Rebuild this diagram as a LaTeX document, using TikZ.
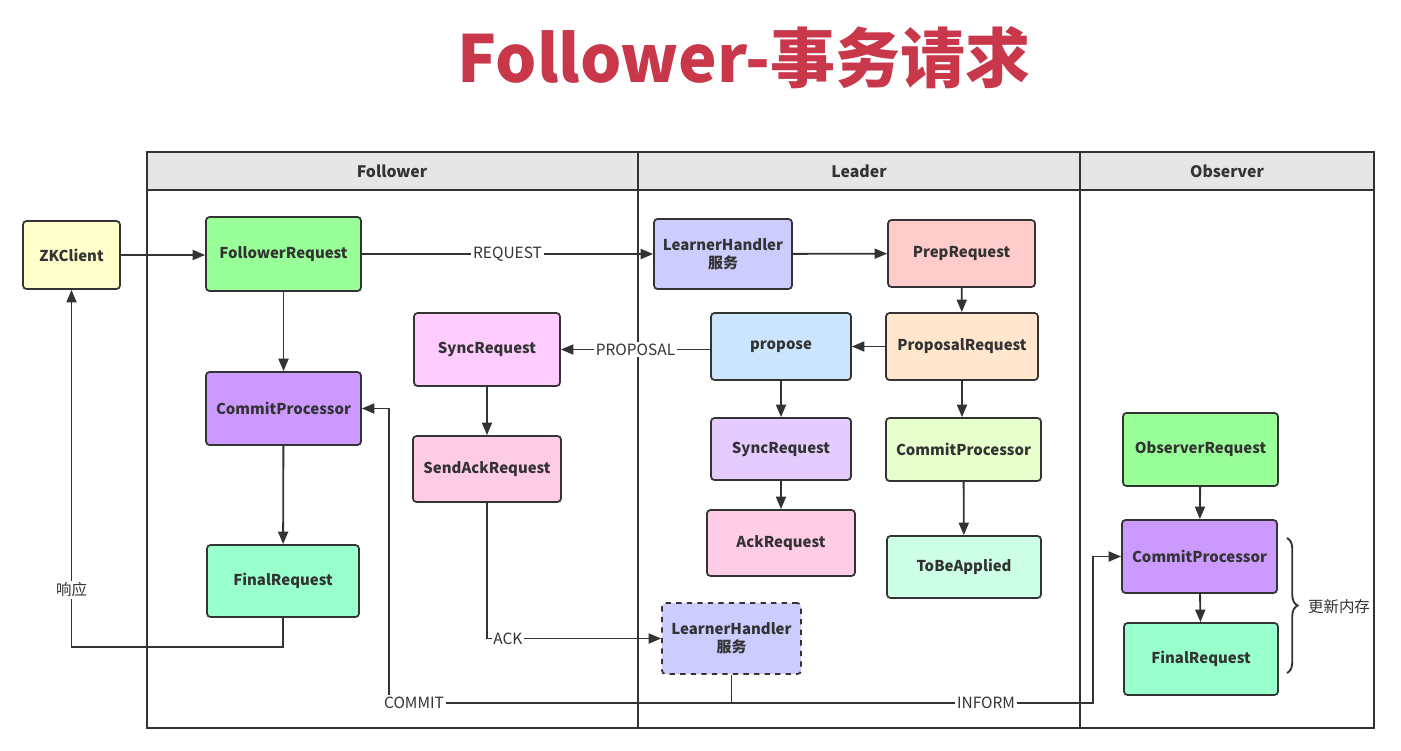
\documentclass[tikz,border=0pt]{standalone}
\usepackage{fontspec}
\setmainfont{Noto Sans CJK SC}
\usepackage{tikz}
\usetikzlibrary{arrows.meta,positioning,decorations.pathreplacing}
\definecolor{LineGray}{HTML}{333333}
\definecolor{HeadGray}{HTML}{E6E6E6}
\definecolor{TitleRed}{HTML}{C8374A}
\definecolor{ZKYellow}{HTML}{FFFFCC}
\definecolor{ReqGreen}{HTML}{99FF99}
\definecolor{CPPurple}{HTML}{CC99FF}
\definecolor{FinMint}{HTML}{99FFCC}
\definecolor{SyncPink}{HTML}{FFCCFF}
\definecolor{AckPink}{HTML}{FFCCE6}
\definecolor{LHBlue}{HTML}{CCCCFF}
\definecolor{PrepRed}{HTML}{FFCCCC}
\definecolor{ProposeBlue}{HTML}{CCE5FF}
\definecolor{PropOrange}{HTML}{FFE6CC}
\definecolor{SyncLilac}{HTML}{E5CCFF}
\definecolor{CPLime}{HTML}{E6FFCC}
\definecolor{TBAMint}{HTML}{CCFFE6}

\begin{document}
\begin{tikzpicture}[x=0.02cm,y=-0.02cm,
  every node/.style={font=\fontsize{8.8}{10}\selectfont,align=center,text=LineGray},
  stage/.style={draw=LineGray,rounded corners=2pt,line width=1pt,inner sep=2pt,
                font=\fontsize{8.5}{10.5}\selectfont\bfseries},
  sz/.style 2 args={minimum width=#1cm,minimum height=#2cm},
  lane/.style={font=\fontsize{9}{11}\selectfont\bfseries},
  tag/.style={fill=white,inner sep=1pt},
  wire/.style={line width=1.05pt,draw=LineGray},
  arr/.style={wire,-{Triangle[length=2.5mm,width=2mm]}}
]
  \useasboundingbox (0,0) rectangle (1401,751);

  \node[font=\fontsize{37}{40}\selectfont\bfseries,text=TitleRed] (title) at (744,58)
    {Follower-事务请求};

  % swimlanes
  \fill[HeadGray] (147,152) rectangle (1374,190);
  \draw[wire,line width=1.1pt] (147,152) rectangle (1374,728);
  \draw[wire] (147,190) -- (1374,190);
  \draw[wire] (638,152) -- (638,728);
  \draw[wire] (1080,152) -- (1080,728);
  \node[lane] (hfol) at (392,171) {Follower};
  \node[lane] (hlea) at (859,171) {Leader};
  \node[lane] (hobs) at (1227,171) {Observer};

  % client and follower
  \node[stage,sz={1.94}{1.36},fill=ZKYellow] (zk) at (71.5,255) {ZKClient};
  \node[stage,sz={3.1}{1.48},fill=ReqGreen] (fr) at (283.5,254) {FollowerRequest};
  \node[stage,sz={3.1}{1.46},fill=CPPurple] (cp1) at (283.5,408.5) {CommitProcessor};
  \node[stage,sz={3.04}{1.44},fill=FinMint] (fin1) at (283,581) {FinalRequest};
  \node[stage,sz={2.92}{1.46},fill=SyncPink] (sync1) at (487,349.5) {SyncRequest};
  \node[stage,sz={2.96}{1.32},fill=AckPink] (sack) at (487,469) {SendAckRequest};

  % leader
  \node[stage,sz={2.76}{1.4},fill=LHBlue] (lh1) at (723,254) {LearnerHandler\\服务};
  \node[stage,sz={2.94}{1.34},fill=PrepRed] (prep) at (961.5,253.5) {PrepRequest};
  \node[stage,sz={2.8}{1.34},fill=ProposeBlue] (prop) at (781,346.5) {propose};
  \node[stage,sz={3.04}{1.34},fill=PropOrange] (preq) at (962,346.5) {ProposalRequest};
  \node[stage,sz={2.8}{1.24},fill=SyncLilac] (sync2) at (781,449) {SyncRequest};
  \node[stage,sz={3.1}{1.26},fill=CPLime] (cp2) at (963.5,449.5) {CommitProcessor};
  \node[stage,sz={2.96}{1.32},fill=AckPink] (ack) at (781,543) {AckRequest};
  \node[stage,sz={3.08}{1.24},fill=TBAMint] (tba) at (964,567) {ToBeApplied};
  \node[stage,sz={2.78}{1.42},fill=LHBlue,dashed] (lh2) at (731.5,638.5) {LearnerHandler\\服务};

  % observer
  \node[stage,sz={3.1}{1.46},fill=ReqGreen] (obs) at (1200.5,449.5) {ObserverRequest};
  \node[stage,sz={3.1}{1.46},fill=CPPurple] (cp3) at (1199.5,556.5) {CommitProcessor};
  \node[stage,sz={3.08}{1.44},fill=FinMint] (fin3) at (1201,659) {FinalRequest};

  % flow
  \draw[arr] (zk.east) -- (fr.west |- zk.east);
  \draw[arr] (fr) -- node[tag] {REQUEST} (lh1);
  \draw[arr] (lh1) -- (prep);
  \draw[arr] (prep) -- (preq);
  \draw[arr] (preq) -- (prop);
  \draw[arr] (prop.west |- sync1.east) -- node[tag] {PROPOSAL} (sync1.east);
  \draw[arr] (prop) -- (sync2);
  \draw[arr] (sync2) -- (ack);
  \draw[arr] (preq.south) -- (preq.south |- cp2.north);
  \draw[arr] (cp2) -- (tba);
  \draw[arr] (fr) -- (cp1);
  \draw[arr] (cp1) -- (fin1);
  \draw[arr] (fin1.south) -- ++(0,29) -| node[pos=0.58,tag] {响应} (zk.south);
  \draw[arr] (sync1) -- (sack);
  \draw[arr] (sack.south) |- node[pos=0.56,tag] {ACK} (lh2.west);

  \coordinate (busL) at (389,703);
  \coordinate (busR) at (1093,703);
  \coordinate (busM) at (lh2.south |- busL);
  \draw[wire] (lh2.south) -- (busM);
  \draw[arr] (busM) -- node[pos=0.927,tag] {COMMIT} (busL) |- (cp1.east);
  \draw[arr] (busM) -- node[pos=0.704,tag] {INFORM} (busR) |- (cp3.west);
  \draw[arr] (obs) -- (cp3);
  \draw[arr] (cp3) -- (fin3);

  \draw[wire,decorate,decoration={brace,amplitude=6pt}] (1287,538) -- (1287,673);
  \node (mem) at (1339,607) {更新内存};
\end{tikzpicture}
\end{document}
